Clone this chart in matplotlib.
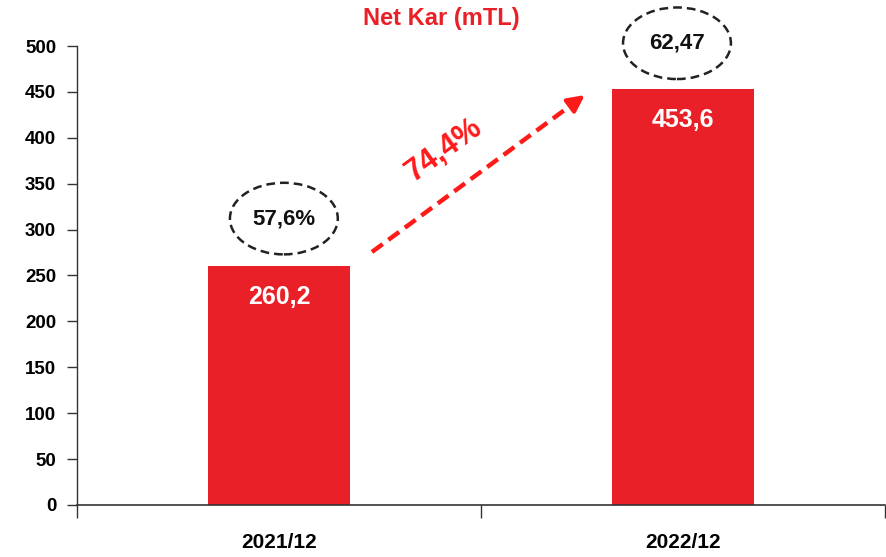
import matplotlib.pyplot as plt
from matplotlib.patches import Ellipse

plt.rcParams['font.family'] = ['Liberation Sans Narrow', 'Liberation Sans', 'DejaVu Sans']
plt.rcParams['font.weight'] = 'bold'

periods = ['2021/12', '2022/12']
net_kar = [260.2, 453.6]
ratio_labels = ['57,6%', '62,47']
growth_label = '74,4%'
yticks = list(range(0, 501, 50))

red = '#E92027'

fig = plt.figure(figsize=(8.87, 5.57), dpi=100)
ax = fig.add_axes([0.0868, 0.0934, 0.911, 0.824])

x = list(range(len(periods)))
ax.bar(x, net_kar, width=0.35, color=red, zorder=2)

# values inside the bars
for xi, v in zip(x, net_kar):
    ax.text(xi, v - 34, f'{v:.1f}'.replace('.', ','), color='white',
            ha='center', va='center', fontsize=18, fontweight='bold', zorder=3)

# dashed ellipses with ratios
ell_y = [312, 503]
ell_x = [0.012, 0.985]
for ex, ey, lab in zip(ell_x, ell_y, ratio_labels):
    e = Ellipse((ex, ey), 0.267, 78, fill=False, ec='#222222', lw=1.8,
                ls=(0, (3.5, 2)), clip_on=False, zorder=3)
    ax.add_patch(e)
    ax.text(ex, ey, lab, ha='center', va='center', fontsize=16,
            fontweight='bold', color='#111111', zorder=4)

# growth arrow
x0, y0, x1, y1 = 0.230, 275.6, 0.757, 446.6
ax.plot([x0, x1 - 0.02], [y0, y1 - 6.5], color='#FF1A1A', lw=3.2,
        ls=(0, (3, 1.6)), solid_capstyle='butt', zorder=3)
ax.annotate('', xy=(x1, y1), xytext=(x1 - 0.03, y1 - 9.7),
            arrowprops=dict(arrowstyle='-|>,head_length=1.0,head_width=0.5',
                            color='#FF1A1A', lw=3, shrinkA=0, shrinkB=0),
            zorder=3)
ax.text(0.408, 387, growth_label, color='#FF1A1A', fontsize=22,
        fontweight='bold', rotation=36, ha='center', va='center')

ax.set_xlim(-0.5, 1.5)
ax.set_ylim(0, 500)
ax.set_yticks(yticks)
ax.set_yticklabels([str(t) for t in yticks], fontsize=13.5, fontweight='bold')
ax.set_xticks([-0.5, 0.5, 1.5])
ax.set_xticklabels([])
ax.set_xticks(x, minor=True)
ax.set_xticklabels(periods, minor=True, fontsize=15, fontweight='bold')
ax.tick_params(axis='x', which='major', direction='out', length=9, width=1, color='#333333')
ax.tick_params(axis='x', which='minor', length=0, pad=20)
ax.tick_params(axis='y', direction='out', length=7, width=1, color='#333333', pad=8)

for s in ['top', 'right']:
    ax.spines[s].set_visible(False)
ax.spines['left'].set_color('#333333')
ax.spines['bottom'].set_color('#333333')
ax.spines['left'].set_linewidth(1)
ax.spines['bottom'].set_linewidth(1.2)

fig.text(0.497, 0.966, 'Net Kar (mTL)', color=red, fontsize=17,
         fontweight='bold', ha='center', va='center')

fig.savefig('out.png', dpi=100)
